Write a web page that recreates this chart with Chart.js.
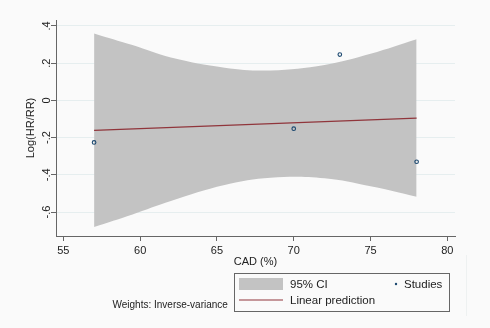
<!DOCTYPE html>
<html>
<head>
<meta charset="utf-8">
<script src="https://cdn.jsdelivr.net/npm/chart.js@4.4.1/dist/chart.umd.min.js"></script>
<style>
  html, body { margin: 0; padding: 0; background: #fafafa; }
  #wrap { width: 490px; height: 328px; }
</style>
</head>
<body>
<div id="wrap"><canvas id="canvas-metareg"></canvas></div>
<script>
// studies (CAD %, log HR/RR)
const studyX = [57, 70, 73, 78];
const studyY = [-0.226, -0.152, 0.246, -0.33];

// linear prediction end points
const predX = [57, 78];
const predY = [-0.161, -0.095];

// 95% CI band
const ciX = [57, 59.5, 62, 65.5, 68.5, 72, 75, 78];
const ciUpper = [0.36, 0.297, 0.23, 0.176, 0.161, 0.19, 0.25, 0.328];
const ciLower = [-0.681, -0.613, -0.541, -0.455, -0.416, -0.419, -0.462, -0.518];

// ticks
const xTickValues = [55, 60, 65, 70, 75, 80];
const yTickValues = [-0.6, -0.4, -0.2, 0, 0.2, 0.4];
const yTickLabels = ['-.6', '-.4', '-.2', '0', '.2', '.4'];

const toPts = (xs, ys) => xs.map((x, i) => ({ x: x, y: ys[i] }));

const FONT = '"Liberation Sans", Arial, sans-serif';
const BAND = 'rgb(195, 195, 195)';
const RED = 'rgb(144, 53, 59)';
const NAVY = 'rgb(26, 71, 111)';

const stataBits = {
  id: 'stataBits',
  beforeDraw(chart) {
    const ctx = chart.ctx;
    ctx.save();
    ctx.fillStyle = '#fafafa';
    ctx.fillRect(0, 0, chart.width, chart.height);
    ctx.restore();
  },
  afterDraw(chart) {
    const ctx = chart.ctx;
    const ys = chart.scales.y;
    const area = chart.chartArea;
    ctx.save();
    ctx.fillStyle = '#222';

    // rotated y tick labels
    ctx.font = '11px ' + FONT;
    ctx.textAlign = 'center';
    ctx.textBaseline = 'middle';
    yTickLabels.forEach((lab, i) => {
      const py = ys.getPixelForValue(yTickValues[i]);
      ctx.save();
      ctx.translate(area.left - 9.5, py);
      ctx.rotate(-Math.PI / 2);
      ctx.fillText(lab, 0, 0);
      ctx.restore();
    });

    // axis titles
    ctx.font = '11px ' + FONT;
    ctx.save();
    ctx.translate(31, (area.top + area.bottom) / 2);
    ctx.rotate(-Math.PI / 2);
    ctx.fillText('Log(HR/RR)', 0, 0);
    ctx.restore();
    ctx.fillText('CAD (%)', (area.left + area.right) / 2, 262);

    // faint region edge
    ctx.strokeStyle = '#eef1f1';
    ctx.lineWidth = 1;
    ctx.beginPath();
    ctx.moveTo(466.5, 255);
    ctx.lineTo(466.5, 316);
    ctx.stroke();

    // legend box
    ctx.fillStyle = '#fafafa';
    ctx.fillRect(234, 273, 215, 38);
    ctx.strokeStyle = '#666';
    ctx.strokeRect(234.5, 273.5, 215, 38);

    ctx.fillStyle = BAND;
    ctx.fillRect(239, 278, 44, 12);

    ctx.strokeStyle = RED;
    ctx.lineWidth = 1.2;
    ctx.beginPath();
    ctx.moveTo(239, 300);
    ctx.lineTo(283, 300);
    ctx.stroke();

    ctx.fillStyle = NAVY;
    ctx.beginPath();
    ctx.arc(396, 284, 1.2, 0, Math.PI * 2);
    ctx.fill();

    ctx.fillStyle = '#222';
    ctx.font = '11.5px ' + FONT;
    ctx.textAlign = 'left';
    ctx.fillText('95% CI', 290, 284.5);
    ctx.fillText('Studies', 404, 284.5);
    ctx.fillText('Linear prediction', 290, 300.5);

    // note
    ctx.font = '10px ' + FONT;
    ctx.fillText('Weights: Inverse-variance', 112.5, 305);
    ctx.restore();
  }
};

new Chart(document.getElementById('canvas-metareg'), {
  type: 'scatter',
  data: {
    datasets: [
      {
        label: 'CI upper',
        type: 'line',
        data: toPts(ciX, ciUpper),
        borderWidth: 0,
        pointRadius: 0,
        tension: 0.4,
        backgroundColor: BAND,
        fill: '+1',
        order: 3
      },
      {
        label: 'CI lower',
        type: 'line',
        data: toPts(ciX, ciLower),
        borderWidth: 0,
        pointRadius: 0,
        tension: 0.4,
        backgroundColor: BAND,
        fill: false,
        order: 3
      },
      {
        label: 'Linear prediction',
        type: 'line',
        data: toPts(predX, predY),
        borderColor: RED,
        borderWidth: 1.2,
        pointRadius: 0,
        fill: false,
        order: 2
      },
      {
        label: 'Studies',
        data: toPts(studyX, studyY),
        pointRadius: 1.8,
        pointBorderWidth: 1.1,
        pointBorderColor: NAVY,
        pointBackgroundColor: 'rgba(0,0,0,0)',
        order: 1
      }
    ]
  },
  options: {
    responsive: true,
    maintainAspectRatio: false,
    animation: false,
    layout: { padding: { left: 0, right: 35, top: 20, bottom: 0 } },
    plugins: {
      legend: { display: false },
      tooltip: { enabled: false }
    },
    scales: {
      x: {
        type: 'linear',
        min: 54.52,
        max: 80.5,
        afterBuildTicks: (scale) => { scale.ticks = xTickValues.map(v => ({ value: v })); },
        afterFit: (scale) => { scale.height = 92; },
        border: { color: '#666', width: 1 },
        grid: { drawOnChartArea: false, tickLength: 5, tickColor: '#666' },
        ticks: { color: '#222', padding: 3, maxRotation: 0, font: { family: FONT, size: 11 } }
      },
      y: {
        type: 'linear',
        min: -0.729,
        max: 0.432,
        afterBuildTicks: (scale) => { scale.ticks = yTickValues.map(v => ({ value: v })); },
        afterFit: (scale) => { scale.width = 56; },
        border: { color: '#666', width: 1 },
        grid: { color: '#e6eeef', lineWidth: 1, tickLength: 5, tickColor: '#666' },
        ticks: { display: false }
      }
    }
  },
  plugins: [stataBits]
});
</script>
</body>
</html>
